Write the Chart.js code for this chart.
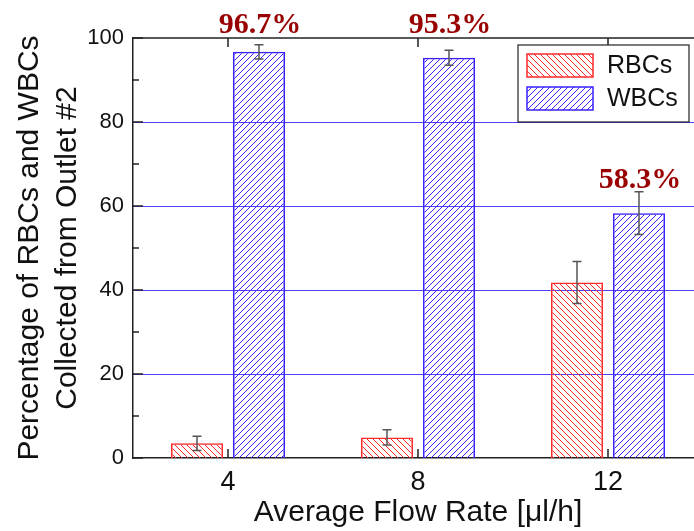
<!DOCTYPE html>
<html>
<head>
<meta charset="utf-8">
<script src="https://cdn.jsdelivr.net/npm/chart.js@4"></script>
<style>
    html, body { margin: 0; padding: 0; overflow: hidden; background: #fff; }
    #wrap { width: 694px; height: 531px; overflow: hidden; }
</style>
</head>
<body>
<div id="wrap"><canvas id="flowChart" width="720" height="531"></canvas></div>
<script>
let flowRates = ["4", "8", "12"];
let rbcValues = [3.5, 4.9, 41.8];
let rbcErrors = [1.7, 1.8, 5.0];
let wbcValues = [96.7, 95.3, 58.3];
let wbcErrors = [1.7, 1.8, 5.1];
let highlightLabels = ["96.7%", "95.3%", "58.3%"];
let seriesNames = ["RBCs", "WBCs"];
let gridValues = [20, 40, 60, 80];

// pixel hatch tile, rgb given as array
function makeHatch(rgb, forward) {
    let size = 6;
    let c = document.createElement("canvas");
    c.width = size;
    c.height = size;
    let g = c.getContext("2d");
    let img = g.createImageData(size, size);
    for (let yy = 0; yy < size; yy++) {
        for (let xx = 0; xx < size; xx++) {
            let on = forward ? (xx + yy) % size === 0 : (xx - yy + size) % size === 0;
            let k = (yy * size + xx) * 4;
            img.data[k] = rgb[0];
            img.data[k + 1] = rgb[1];
            img.data[k + 2] = rgb[2];
            img.data[k + 3] = on ? 255 : 0;
        }
    }
    g.putImageData(img, 0, 0);
    return g.createPattern(c, "repeat");
}

let redHatch = makeHatch([255, 40, 40], false);
let blueHatch = makeHatch([58, 34, 255], true);

// blue horizontal grid lines behind the bars
let gridPlugin = {
    id: "blueGrid",
    beforeDatasetsDraw(chart) {
        let ctx = chart.ctx;
        let y = chart.scales.y;
        let area = chart.chartArea;
        ctx.save();
        ctx.fillStyle = "#4f40ff";
        gridValues.forEach(v => {
            let py = Math.round(y.getPixelForValue(v));
            ctx.fillRect(area.left, py, area.right - area.left, 1);
        });
        ctx.restore();
    }
};

// error bars, inward ticks, top frame, custom legend and value labels
let extrasPlugin = {
    id: "extras",
    afterDatasetsDraw(chart) {
        let ctx = chart.ctx;
        let y = chart.scales.y;
        let x = chart.scales.x;
        let area = chart.chartArea;
        let errs = [rbcErrors, wbcErrors];
        let vals = [rbcValues, wbcValues];

        ctx.save();
        ctx.strokeStyle = "#555";
        ctx.lineWidth = 1.5;
        chart.data.datasets.forEach((ds, di) => {
            let meta = chart.getDatasetMeta(di);
            meta.data.forEach((bar, i) => {
                let top = y.getPixelForValue(vals[di][i] + errs[di][i]);
                let bot = y.getPixelForValue(vals[di][i] - errs[di][i]);
                ctx.beginPath();
                ctx.moveTo(bar.x, top); ctx.lineTo(bar.x, bot);
                ctx.moveTo(bar.x - 4.5, top); ctx.lineTo(bar.x + 4.5, top);
                ctx.moveTo(bar.x - 4.5, bot); ctx.lineTo(bar.x + 4.5, bot);
                ctx.stroke();
            });
        });

        // frame top line and inward ticks
        ctx.strokeStyle = "#222";
        ctx.lineWidth = 1.5;
        ctx.beginPath();
        ctx.moveTo(area.left, area.top);
        ctx.lineTo(area.right, area.top);
        ctx.stroke();
        ctx.beginPath();
        for (let v = 0; v <= 100; v += 10) {
            let py = y.getPixelForValue(v);
            ctx.moveTo(area.left, py);
            ctx.lineTo(area.left + (v % 20 === 0 ? 10 : 6), py);
        }
        flowRates.forEach((r, i) => {
            let px = x.getPixelForValue(i);
            ctx.moveTo(px, area.bottom); ctx.lineTo(px, area.bottom - 9);
            ctx.moveTo(px, area.top); ctx.lineTo(px, area.top + 9);
        });
        ctx.stroke();

        // value labels over WBC bars
        let wbcMeta = chart.getDatasetMeta(1);
        ctx.fillStyle = "#990000";
        ctx.font = "bold 30px 'Liberation Serif', 'Times New Roman', serif";
        ctx.textAlign = "center";
        ctx.textBaseline = "alphabetic";
        wbcMeta.data.forEach((bar, i) => {
            let errTop = y.getPixelForValue(wbcValues[i] + wbcErrors[i]);
            let base = errTop - 4;
            if (base - 25 < area.top) base = area.top - 5;
            ctx.fillText(highlightLabels[i], bar.x + 1, base);
        });

        // legend box
        let lx = 518, ly = 45, lw = 171, lh = 77;
        ctx.fillStyle = "#fff";
        ctx.fillRect(lx, ly, lw, lh);
        ctx.strokeStyle = "#222";
        ctx.lineWidth = 1.2;
        ctx.strokeRect(lx, ly, lw, lh);
        let patterns = [redHatch, blueHatch];
        let borders = ["#ff2a2a", "#3a22ff"];
        ctx.font = "25px 'Liberation Sans', Arial, sans-serif";
        ctx.textAlign = "left";
        ctx.textBaseline = "middle";
        seriesNames.forEach((name, i) => {
            let sy = 54 + i * 33;
            ctx.fillStyle = patterns[i];
            ctx.fillRect(527, sy, 66, 23);
            ctx.strokeStyle = borders[i];
            ctx.lineWidth = 1.5;
            ctx.strokeRect(527, sy, 66, 23);
            ctx.fillStyle = "#111";
            ctx.fillText(name, 607, sy + 12);
        });
        ctx.restore();
    }
};

Chart.defaults.font.family = "'Liberation Sans', Arial, sans-serif";
Chart.defaults.color = "#111";

let ctx = document.getElementById("flowChart").getContext("2d");
let flowChart = new Chart(ctx, {
    type: "bar",
    data: {
        labels: flowRates,
        datasets: [{
            label: seriesNames[0],
            data: rbcValues,
            backgroundColor: redHatch,
            borderColor: "#ff2a2a",
            borderWidth: 1.5,
            categoryPercentage: 0.6526,
            barPercentage: 0.839
        }, {
            label: seriesNames[1],
            data: wbcValues,
            backgroundColor: blueHatch,
            borderColor: "#3a22ff",
            borderWidth: 1.5,
            categoryPercentage: 0.6526,
            barPercentage: 0.839
        }]
    },
    options: {
        responsive: false,
        animation: false,
        layout: { padding: { left: 0, top: 38, right: 17, bottom: 0 } },
        plugins: {
            legend: { display: false },
            tooltip: { enabled: false }
        },
        scales: {
            x: {
                offset: true,
                grid: { display: false, drawTicks: false },
                border: { color: "#222", width: 1.5 },
                ticks: { font: { size: 27 }, padding: 8, color: "#111" },
                title: {
                    display: true,
                    text: "Average Flow Rate [\u03bcl/h]",
                    font: { size: 30 },
                    color: "#111",
                    padding: { top: 0, bottom: 0 }
                },
                afterFit(scale) { scale.height = 73; }
            },
            y: {
                min: 0,
                max: 100,
                ticks: {
                    stepSize: 10,
                    font: { size: 22 },
                    padding: 9,
                    color: "#111",
                    callback: v => (v % 20 === 0 ? v : "")
                },
                grid: { display: false, drawTicks: false },
                border: { color: "#222", width: 1.5 },
                title: {
                    display: true,
                    text: ["Percentage of RBCs and WBCs", "Collected from Outlet #2"],
                    font: { size: 30, lineHeight: 1.25 },
                    color: "#111",
                    padding: { top: 11, bottom: 0 }
                },
                afterFit(scale) { scale.width = 133; }
            }
        }
    },
    plugins: [gridPlugin, extrasPlugin]
});
</script>
</body>
</html>
